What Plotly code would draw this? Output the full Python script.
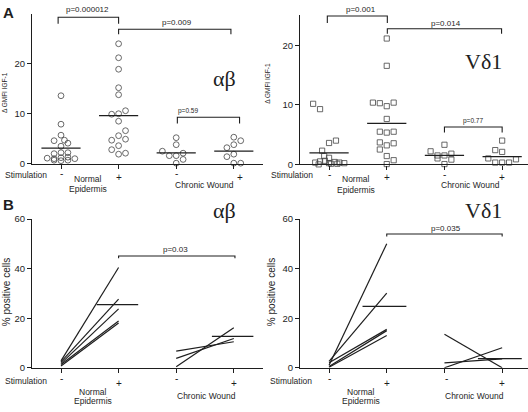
import plotly.graph_objects as go

W, H = 528, 412

# ---------------- data ----------------
groups = [1, 2, 3, 4]
stim_labels = ["-", "+", "-", "+"]

# Panel A, alpha-beta T cells (open circles): delta GMFI IGF-1
ab_ne_minus = [13.6, 7.9, 5.7, 4.6, 4.7, 4.1, 3.5, 2.0, 2.2, 2.2, 1.1, 1.0, 1.2, 1.3, 1.0, 0.7, 0.6, 0.7]
ab_ne_plus = [24.0, 21.2, 18.9, 15.2, 13.8, 9.9, 10.0, 10.6, 8.5, 6.6, 4.7, 5.6, 4.9, 3.6, 2.8, 1.9, 2.1]
ab_cw_minus = [5.2, 3.8, 2.5, 1.6, 1.6, 2.1, 0.85, 0.1]
ab_cw_plus = [5.3, 4.6, 3.2, 3.8, 1.4, 1.9, 0.1, 0.1]
ab_means = [3.1, 9.6, 2.15, 2.5]

# beeswarm column index of each point (one column = 7 px)
ab_ne_minus_col = [0, 0, 0, -1, 0.5, 1, 0, -1, 0, 1, -2, -1, 0, 1, 2, -1, 0, 1]
ab_ne_plus_col = [0, 0, 0, 0, 0, -1, 0, 1, 0, 1, -1, 0, 1, 0, -1, 0, 1]
ab_cw_minus_col = [0, 0, -2, -1, 0, 1, 1, 0]
ab_cw_plus_col = [0, 1, -1, 0, -1, 0, 0, 1]

# Panel A, V-delta-1 T cells (open squares)
vd_ne_minus = [10.2, 9.3, 4.0, 3.6, 2.3, 1.4, 1.1, 0.3, 0.5, 0.6, 0.2, 0.4, 0.3, 0.2, 0.0, 0.1, 0.1]
vd_ne_plus = [21.2, 16.6, 10.4, 10.3, 9.8, 10.4, 7.65, 5.5, 5.35, 5.5, 3.7, 3.2, 3.55, 2.5, 1.4, 0.05, 0.7]
vd_cw_minus = [3.3, 2.2, 1.5, 1.5, 1.8, 1.0, 0.8, 0.05]
vd_cw_plus = [4.0, 2.4, 2.1, 1.0, 0.3, 0.3, 0.3, 0.85]
vd_means = [1.95, 6.9, 1.5, 1.3]

vd_ne_minus_col = [-2.3, -1.3, 1, 0, -1, -0.7, 0, -2, -1.3, -0.6, 0, 0.8, 1.5, 2.2, -1.5, 0.3, 1.2]
vd_ne_plus_col = [0, 0, -2, -1, 0, 1, 0, -1, 0, 1, -1, 0, 1, -1, 0, 0, 1]
vd_cw_minus_col = [0, -2, -1, 0, 1, -1, 1, 0]
vd_cw_plus_col = [0, -1, 0, -2, -1, 0, 1, 2]

# Panel B: % positive cells, paired donors (unstimulated -> stimulated)
b_ab_ne_minus = [2.8, 2.4, 1.8, 1.3, 0.7]
b_ab_ne_plus = [40.5, 27.7, 23.8, 18.9, 18.1]
b_ab_cw_minus = [6.7, 3.8, 0.4]
b_ab_cw_plus = [10.5, 11.8, 16.2]
b_ab_means = [25.5, 12.7]

b_vd_ne_minus = [1.0, 2.6, 2.0, 0.5, 0.2]
b_vd_ne_plus = [50.1, 30.1, 15.5, 15.0, 13.0]
b_vd_cw_minus = [13.5, 0.0, 2.0]
b_vd_cw_plus = [0.0, 8.1, 3.6]
b_vd_means = [24.8, 3.7]

# ---------------- helpers ----------------
INK = "#1e1e1e"
SANS = "Liberation Sans, Arial, sans-serif"
SERIF = "Liberation Serif, Times New Roman, serif"
COLW = 0.12


def X(p):
    return p / W


def Y(p):
    return 1 - p / H


fig = go.Figure()


def swarm(vals, cols, g, symbol, size, xa, ya):
    fig.add_trace(go.Scatter(
        x=[g + c * COLW for c in cols], y=vals, mode="markers",
        marker=dict(symbol=symbol, size=size, color="#444444",
                    line=dict(color="#444444", width=0.8)),
        cliponaxis=False, xaxis=xa, yaxis=ya, showlegend=False, hoverinfo="y"))


def mean_lines(means, gs, xa, ya, left=0.34, right=0.34):
    xs, ys = [], []
    for m, g in zip(means, gs):
        xs += [g - left, g + right, None]
        ys += [m, m, None]
    fig.add_trace(go.Scatter(x=xs, y=ys, mode="lines", line=dict(color=INK, width=1.3),
                             xaxis=xa, yaxis=ya, showlegend=False, hoverinfo="skip",
                             cliponaxis=False))


def pairs(a, b, g1, g2, xa, ya):
    xs, ys = [], []
    for u, v in zip(a, b):
        xs += [g1, g2, None]
        ys += [u, v, None]
    fig.add_trace(go.Scatter(x=xs, y=ys, mode="lines", line=dict(color=INK, width=1.2),
                             xaxis=xa, yaxis=ya, showlegend=False, hoverinfo="skip"))


# Panel A left
swarm(ab_ne_minus, ab_ne_minus_col, groups[0], "circle-open", 5.8, "x", "y")
swarm(ab_ne_plus, ab_ne_plus_col, groups[1], "circle-open", 5.8, "x", "y")
swarm(ab_cw_minus, ab_cw_minus_col, groups[2], "circle-open", 5.8, "x", "y")
swarm(ab_cw_plus, ab_cw_plus_col, groups[3], "circle-open", 5.8, "x", "y")
mean_lines(ab_means, groups, "x", "y")

# Panel A right
swarm(vd_ne_minus, vd_ne_minus_col, groups[0], "square-open", 5.2, "x2", "y2")
swarm(vd_ne_plus, vd_ne_plus_col, groups[1], "square-open", 5.2, "x2", "y2")
swarm(vd_cw_minus, vd_cw_minus_col, groups[2], "square-open", 5.2, "x2", "y2")
swarm(vd_cw_plus, vd_cw_plus_col, groups[3], "square-open", 5.2, "x2", "y2")
mean_lines(vd_means, groups, "x2", "y2")

# Panel B
pairs(b_ab_ne_minus, b_ab_ne_plus, groups[0], groups[1], "x3", "y3")
pairs(b_ab_cw_minus, b_ab_cw_plus, groups[2], groups[3], "x3", "y3")
mean_lines(b_ab_means, [groups[1], groups[3]], "x3", "y3", left=0.38, right=0.34)
pairs(b_vd_ne_minus, b_vd_ne_plus, groups[0], groups[1], "x4", "y4")
pairs(b_vd_cw_minus, b_vd_cw_plus, groups[2], groups[3], "x4", "y4")
mean_lines(b_vd_means, [groups[1], groups[3]], "x4", "y4", left=0.42, right=0.34)

# ---------------- axes ----------------
def xax(dom, rng, anchor):
    return dict(domain=dom, range=rng, anchor=anchor, showline=True, linecolor=INK,
                linewidth=1.3, ticks="outside", ticklen=4, tickwidth=1.2, tickcolor=INK,
                tickvals=groups, showticklabels=False, showgrid=False, zeroline=False,
                fixedrange=True)


def yax(dom, rng, anchor, tv):
    return dict(domain=dom, range=rng, anchor=anchor, showline=True, linecolor=INK,
                linewidth=1.3, ticks="outside", ticklen=4, tickwidth=1.2, tickcolor=INK,
                tickvals=tv, tickfont=dict(family=SANS, size=9.5, color=INK),
                showgrid=False, zeroline=False, fixedrange=True)


LX = [X(32.2), X(262.6)]
RX = [X(300.2), 1.0]
fig.update_layout(
    xaxis=xax(LX, [0.5, 4.5], "y"),
    yaxis=yax([Y(162), Y(8)], [0, 30], "x", [0, 10, 20]),
    xaxis2=xax(RX, [0.5, 4.448], "y2"),
    yaxis2=yax([Y(162.7), Y(9)], [0, 25.2], "x2", [0, 10, 20]),
    xaxis3=xax(LX, [0.5, 4.5], "y3"),
    yaxis3=yax([Y(371.7), Y(219)], [0, 60], "x3", [0, 20, 40, 60]),
    xaxis4=xax(RX, [0.5, 4.448], "y4"),
    yaxis4=yax([Y(371.7), Y(219)], [0, 60], "x4", [0, 20, 40, 60]),
)

# ---------------- significance brackets ----------------
def bracket(x1, x2, top, low, xa, ya):
    fig.add_shape(type="path", xref=xa, yref=ya,
                  path=f"M {x1},{low} L {x1},{top} L {x2},{top} L {x2},{low}",
                  line=dict(color=INK, width=1.1))


bracket(0.95, 2.0, 29.3, 28.0, "x", "y")
bracket(2.0, 3.95, 26.9, 25.9, "x", "y")
bracket(3.02, 4.1, 9.3, 8.05, "x", "y")
bracket(0.97, 2.01, 25.0, 23.8, "x2", "y2")
bracket(2.01, 3.99, 22.85, 22.0, "x2", "y2")
bracket(3.0, 4.0, 6.3, 5.35, "x2", "y2")
bracket(2.0, 4.02, 45.1, 44.2, "x3", "y3")
bracket(2.0, 4.0, 54.0, 53.0, "x4", "y4")

# ---------------- texts ----------------
def txt(s, xp, yp, size, family=SANS, angle=0, bold=False, xanchor="center"):
    if bold:
        s = f"<b>{s}</b>"
    fig.add_annotation(text=s, x=X(xp), y=Y(yp), xref="paper", yref="paper",
                       xanchor=xanchor, yanchor="middle", showarrow=False, textangle=angle,
                       font=dict(family=family, size=size, color=INK))


txt("A", 1, 7, 15, bold=True, xanchor="left")
txt("B", 1, 204, 15, bold=True, xanchor="left")

txt("p=0.000012", 87, 4, 8)
txt("p=0.009", 177, 16.5, 8)
txt("p=0.59", 188, 108, 6.5)
txt("p=0.001", 361, 4, 8)
txt("p=0.014", 446, 18.3, 8)
txt("p=0.77", 473, 118.3, 6.5)
txt("p=0.03", 175, 250, 8)
txt("p=0.035", 446, 228.3, 8)

txt("\u03b1\u03b2", 224, 74, 22, family=SERIF)
txt("V\u03b41", 483, 57, 22, family=SERIF)
txt("\u03b1\u03b2", 224, 210, 22, family=SERIF)
txt("V\u03b41", 483, 210, 22, family=SERIF)

txt("\u0394 GMFI IGF-1", 4.5, 89, 6.5, angle=-90)
txt("\u0394 GMFI IGF-1", 268, 80, 6.5, angle=-90)
txt("% positive cells", 6, 294, 10, angle=-90)
txt("% positive cells", 271, 294, 10, angle=-90)

for (ys, yn1, yn2, yc, xs, xn, xc, fs) in [
    (174, 178, 188.5, 184, 26, 88, 204, 8.5),
    (174, 178, 189, 184, 292, 356, 470, 8.5),
    (385, 396.2, 406.2, 401, 26, 93, 206, 8.5),
    (385, 396.2, 406.2, 401, 291, 361, 474, 8.5),
]:
    txt("Stimulation", xs, ys, 8.5)
    txt("Normal", xn, yn1, fs)
    txt("Epidermis", xn, yn2, fs)
    txt("Chronic Wound", xc, yc, 8.5)

# stimulation -/+ labels under each tick
label_rows = [("x", 172, 176.5, [0, 0, 0, 6]), ("x2", 173, 176, [0, 0, 0, 0]),
              ("x3", 382.7, 388, [0, 0, 0, 0]), ("x4", 382.7, 387.5, [0, 0, 2, 0])]
for xa, ym, yp_, shifts in label_rows:
    for g, lab, sh in zip(groups, stim_labels, shifts):
        fig.add_annotation(text=lab, x=g, xref=xa, y=Y(ym if lab == "-" else yp_), yref="paper",
                           xshift=sh, showarrow=False, yanchor="middle",
                           font=dict(family=SANS, size=10, color=INK))

fig.update_layout(width=W, height=H, margin=dict(l=0, r=0, t=0, b=0),
                  paper_bgcolor="white", plot_bgcolor="white", showlegend=False)

fig.write_html("out.html", config={"displayModeBar": False},
               post_script="document.body.style.margin='0px';"
                           "document.body.style.overflow='hidden';")
